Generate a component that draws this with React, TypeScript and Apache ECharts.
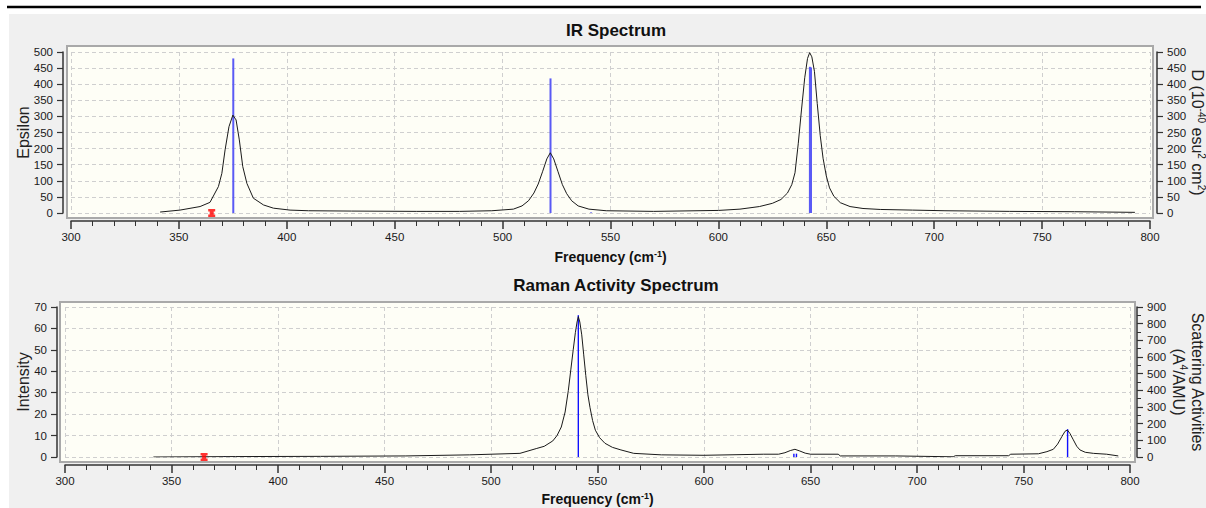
import React, { useEffect, useRef } from "react";
import * as echarts from "echarts";

// ---------- data ----------
const freqMin = 300;
const freqMax = 800;
const freqInterval = 50;

// IR spectrum (Epsilon) curve
const irFreq = [341.3, 350.5, 359.8, 364.4, 368.3, 369.9, 371.4, 373.2, 375, 376.5, 378, 379.6, 381.5, 384.5, 389.2, 393.8, 401.5, 410, 430, 460, 480, 495, 505, 509, 512, 514.5, 516.5, 518.5, 520.5, 522.1, 523.7, 525.7, 527.7, 529.7, 532, 535, 540, 548, 570, 600, 610, 619, 625, 629, 632, 634, 635.5, 637, 638.5, 640, 641.3, 642.3, 643.3, 644.5, 645.8, 647.2, 648.5, 650, 651.5, 653.5, 656.5, 661, 667, 675, 690, 705, 735, 765, 793];
const irEpsilon = [3, 9, 20, 33, 82, 123, 196, 268, 304, 289, 227, 144, 92, 46, 25, 15, 9, 7, 6, 5, 5, 7, 12, 22, 38, 62, 90, 128, 168, 187, 168, 128, 88, 60, 38, 22, 12, 7, 5, 8, 12, 20, 30, 42, 62, 88, 125, 215, 320, 420, 480, 498, 485, 440, 340, 240, 170, 115, 78, 52, 32, 20, 14, 11, 9, 7, 5, 4, 2];
// IR dipole strength sticks (right axis)
const irStickFreq = [375.2, 522.2, 541, 642.4, 642.9];
const irStickD = [480, 418, 2, 454, 452];
// Raman curve
const ramanFreq = [341.5, 380, 420, 460, 490, 513.6, 521.5, 525, 529, 531, 533, 534.8, 536.3, 537.5, 538.6, 539.6, 540.4, 541, 541.7, 542.6, 543.5, 544.5, 545.5, 546.5, 547.7, 549, 551, 553.5, 557, 561, 567, 580, 600, 628, 635, 638, 640.5, 642.7, 645, 647.5, 650, 663, 664, 690, 717, 718, 743, 744, 757, 761, 764, 766, 768, 769.5, 770.6, 771.8, 773.4, 775, 776.5, 779, 782.8, 789, 794.5];
const ramanIntensity = [0, 0.2, 0.3, 0.5, 1, 1.7, 4, 5, 7.5, 10, 14, 21, 31, 41, 50, 58, 63, 65.5, 63, 57, 48, 38, 29, 23, 17, 12.5, 9, 6.4, 4.5, 3.3, 1.7, 1, 0.8, 1.3, 1.3, 2, 3, 3.6, 2.8, 1.8, 1.3, 1.3, 0.5, 0.5, 0.1, 0.6, 0.6, 1.3, 1.5, 2.5, 3.6, 6, 9.5, 12, 12.6, 11, 8, 5, 3.3, 2.2, 1.7, 1.3, 0.5];
// Raman activity sticks (right axis)
const ramanStickFreq = [375, 541, 642.2, 643.4, 770.7];
const ramanStickActivity = [5, 851, 20, 20, 167];
// red markers at zero
const irMarkerFreq = [365.2];
const ramanMarkerFreq = [365.3];

const irTitle = "IR Spectrum";
const ramanTitle = "Raman Activity Spectrum";

// ---------- styles ----------
const FONT = "Liberation Sans, Arial, sans-serif";
const AXIS_COLOR = "#333";
const labelStyle = { color: "#1a1a1a", fontSize: 11.5, fontFamily: FONT };
const supStyle = (size: number, bold: boolean) => ({
  fontSize: size,
  fontWeight: bold ? "bold" : "normal",
  fontFamily: FONT,
  color: "#111",
  verticalAlign: "top",
  lineHeight: 9,
});

function xAxisCfg(gridIndex: number, gap: number) {
  return {
    type: "value",
    gridIndex,
    min: freqMin,
    max: freqMax,
    interval: freqInterval,
    position: "bottom",
    offset: 8,
    name: "Frequency (cm{sup|-1})",
    nameLocation: "middle",
    nameGap: gap,
    nameMoveOverlap: false,
    nameTextStyle: {
      fontSize: 14,
      fontWeight: "bold",
      color: "#111",
      fontFamily: FONT,
      lineHeight: 16,
      rich: { sup: supStyle(9, true) },
    },
    axisLine: { show: true, onZero: false, lineStyle: { color: AXIS_COLOR, width: 1.5 } },
    axisTick: { show: true, length: 8, lineStyle: { color: AXIS_COLOR, width: 1.5 } },
    minorTick: { show: true, splitNumber: 5, length: 5, lineStyle: { color: AXIS_COLOR, width: 1 } },
    axisLabel: { ...labelStyle, margin: 10 },
    splitLine: { show: true, lineStyle: { color: "#cfcfcf", type: [4, 3], width: 1 } },
  };
}

function yAxisCfg(o: any, lineHeight = 18) {
  return {
    type: "value",
    nameLocation: "middle",
    nameMoveOverlap: false,
    axisLine: { show: true, lineStyle: { color: AXIS_COLOR, width: 1.5 } },
    axisTick: { show: true, length: 6, lineStyle: { color: AXIS_COLOR, width: 1.2 } },
    axisLabel: { ...labelStyle, margin: 10 },
    nameTextStyle: {
      fontSize: 16,
      color: "#222",
      fontFamily: FONT,
      lineHeight,
      rich: { sup: supStyle(10, false) },
    },
    splitLine: { show: false },
    ...o,
  };
}

function stickSeries(xi: number, yi: number, freqs: number[], vals: number[], color: string, width: number) {
  return {
    type: "custom",
    xAxisIndex: xi,
    yAxisIndex: yi,
    data: freqs.map((f, i) => [f, vals[i]]),
    z: 3,
    renderItem: (params: any, api: any) => {
      const p0 = api.coord([api.value(0), 0]);
      const p1 = api.coord([api.value(0), api.value(1)]);
      return {
        type: "line",
        shape: { x1: p0[0], y1: p0[1], x2: p1[0], y2: p1[1] },
        style: { stroke: color, lineWidth: width },
      };
    },
  };
}

const markerSymbol = "path://M0,0H7V2.5H5.5V5.5H7V8H0V5.5H1.5V2.5H0Z";

const option: any = {
  animation: false,
  backgroundColor: "#ffffff",
  title: [
    {
      text: irTitle,
      left: 611,
      top: 17,
      textAlign: "center",
      textStyle: { fontSize: 17, fontWeight: "bold", color: "#111", fontFamily: FONT },
    },
    {
      text: ramanTitle,
      left: 611,
      top: 272,
      textAlign: "center",
      textStyle: { fontSize: 17, fontWeight: "bold", color: "#111", fontFamily: FONT },
    },
  ],
  graphic: {
    elements: [
      { type: "rect", z: -100, silent: true, shape: { x: 9, y: 14, width: 1197, height: 494 }, style: { fill: "#f0f0f0" } },
      { type: "line", z: -90, silent: true, shape: { x1: 7, y1: 7, x2: 1201, y2: 7 }, style: { stroke: "#000", lineWidth: 2.5 } },
      { type: "rect", z: -50, silent: true, shape: { x: 67, y: 46, width: 1086, height: 172 }, style: { fill: "#fefef6", stroke: "#a9a9a9", lineWidth: 2 } },
      { type: "rect", z: -50, silent: true, shape: { x: 60, y: 302, width: 1075, height: 160 }, style: { fill: "#fefef6", stroke: "#a9a9a9", lineWidth: 2 } },
    ],
  },
  grid: [
    { left: 71, right: 56, top: 52, bottom: 295, containLabel: false, outerBoundsMode: "none" },
    { left: 65, right: 76, top: 307, bottom: 51, containLabel: false, outerBoundsMode: "none" },
  ],
  xAxis: [xAxisCfg(0, 28), xAxisCfg(1, 26)],
  yAxis: [
    yAxisCfg({
      gridIndex: 0,
      position: "left",
      offset: 8,
      min: 0,
      max: 500,
      interval: 50,
      name: "Epsilon",
      nameGap: 31,
      splitLine: { show: true, lineStyle: { color: "#cfcfcf", type: [4, 3], width: 1 } },
    }),
    yAxisCfg({
      gridIndex: 0,
      position: "right",
      offset: 7,
      min: 0,
      max: 500,
      interval: 50,
      name: "D (10{sup|-40} esu{sup|2} cm{sup|2})",
      nameRotate: -90,
      nameGap: 31,
    }),
    yAxisCfg({
      gridIndex: 1,
      position: "left",
      offset: 8,
      min: 0,
      max: 70,
      interval: 10,
      name: "Intensity",
      nameGap: 25,
      splitLine: { show: true, lineStyle: { color: "#cfcfcf", type: [4, 3], width: 1 } },
    }),
    yAxisCfg(
      {
        gridIndex: 1,
        position: "right",
        offset: 7,
        min: 0,
        max: 900,
        interval: 100,
        name: "Scattering Activities\n(A{sup|4}/AMU)",
        nameRotate: -90,
        nameGap: 32,
        minorTick: { show: true, splitNumber: 2, length: 4, lineStyle: { color: AXIS_COLOR, width: 1 } },
      },
      19
    ),
  ],
  series: [
    {
      type: "line",
      xAxisIndex: 0,
      yAxisIndex: 0,
      data: irFreq.map((f, i) => [f, irEpsilon[i]]),
      symbol: "none",
      lineStyle: { color: "#1a1a1a", width: 1 },
      z: 4,
    },
    stickSeries(0, 1, irStickFreq, irStickD, "#5a5af5", 2),
    {
      type: "scatter",
      xAxisIndex: 0,
      yAxisIndex: 0,
      data: irMarkerFreq.map((f) => [f, 0]),
      symbol: markerSymbol,
      symbolSize: [7, 8],
      itemStyle: { color: "#ff0000" },
      z: 5,
    },
    {
      type: "line",
      xAxisIndex: 1,
      yAxisIndex: 2,
      data: ramanFreq.map((f, i) => [f, ramanIntensity[i]]),
      symbol: "none",
      lineStyle: { color: "#1a1a1a", width: 1 },
      z: 4,
    },
    stickSeries(1, 3, ramanStickFreq, ramanStickActivity, "#1010ff", 1.4),
    {
      type: "scatter",
      xAxisIndex: 1,
      yAxisIndex: 2,
      data: ramanMarkerFreq.map((f) => [f, 0]),
      symbol: markerSymbol,
      symbolSize: [7, 8],
      itemStyle: { color: "#ff0000" },
      z: 5,
    },
  ],
};

export default function App() {
  const ref = useRef<HTMLDivElement>(null);
  useEffect(() => {
    const chart = echarts.init(ref.current as HTMLDivElement, null, { renderer: "svg" });
    chart.setOption(option);
    return () => chart.dispose();
  }, []);
  return (
    <div
      ref={ref}
      style={{ position: "absolute", left: 0, top: 0, width: 1206, height: 508, background: "#ffffff" }}
    />
  );
}
